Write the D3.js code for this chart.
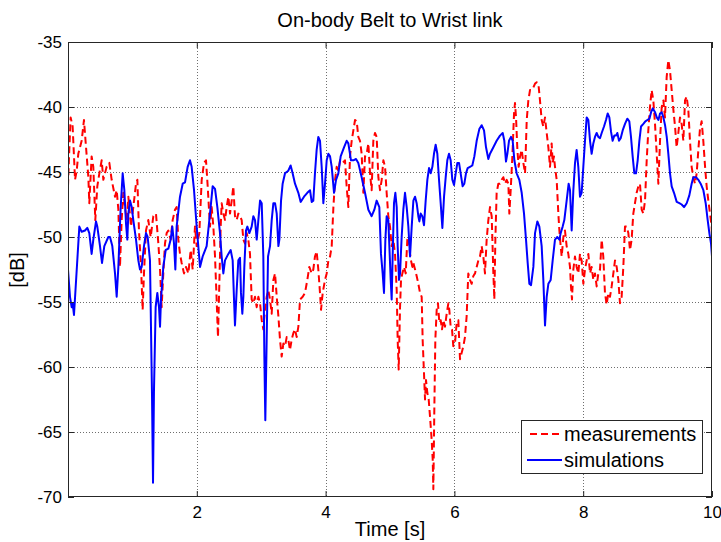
<!DOCTYPE html>
<html><head><meta charset="utf-8">
<script src="https://cdn.jsdelivr.net/npm/d3@7"></script>
<style>
body{margin:0;background:#fff}
svg{display:block}
text{font-family:"Liberation Sans",Arial,Helvetica,sans-serif;fill:#000}
</style>
</head><body>
<svg id="c" width="721" height="542"></svg>
<script>
const titleText = "On-body Belt to Wrist link";
const xLabel = "Time [s]";
const yLabel = "[dB]";
const seriesNames = ["measurements", "simulations"];
const xTicks = [2, 4, 6, 8, 10];
const yTicks = [-70, -65, -60, -55, -50, -45, -40, -35];

const simT = [
0,0.031,0.057,0.072,0.093,0.176,0.212,0.264,0.300,0.331,
0.367,0.393,0.435,0.455,0.497,0.528,0.564,0.626,0.652,0.688,
0.730,0.756,0.782,0.818,0.849,0.875,0.901,0.921,0.937,0.963,
0.989,1.014,1.056,1.092,1.118,1.144,1.180,1.211,1.237,1.273,
1.304,1.320,1.335,1.361,1.387,1.413,1.429,1.444,1.480,1.517,
1.558,1.594,1.620,1.646,1.667,1.687,1.739,1.781,1.817,1.858,
1.894,1.920,1.957,1.998,2.050,2.091,2.153,2.205,2.246,2.283,
2.319,2.360,2.386,2.412,2.438,2.490,2.526,2.557,2.578,2.593,
2.619,2.645,2.671,2.686,2.707,2.723,2.738,2.764,2.785,2.816,
2.852,2.878,2.904,2.930,2.956,2.982,3.008,3.033,3.049,3.064,
3.085,3.106,3.137,3.163,3.189,3.215,3.241,3.267,3.282,3.308,
3.333,3.370,3.421,3.457,3.488,3.525,3.577,3.613,3.665,3.716,
3.758,3.784,3.809,3.835,3.861,3.887,3.913,3.939,3.965,3.991,
4.017,4.043,4.069,4.095,4.131,4.162,4.198,4.234,4.286,4.327,
4.353,4.394,4.431,4.472,4.508,4.560,4.612,4.664,4.715,4.757,
4.793,4.834,4.860,4.886,4.907,4.928,4.948,4.974,4.990,5.011,
5.026,5.042,5.062,5.083,5.104,5.119,5.140,5.156,5.181,5.207,
5.233,5.259,5.285,5.311,5.337,5.363,5.389,5.414,5.440,5.456,
5.476,5.502,5.528,5.554,5.580,5.606,5.632,5.658,5.683,5.709,
5.735,5.761,5.787,5.813,5.839,5.865,5.890,5.916,5.942,5.968,
5.994,6.020,6.046,6.072,6.097,6.128,6.154,6.180,6.206,6.242,
6.278,6.310,6.346,6.387,6.423,6.460,6.491,6.527,6.553,6.605,
6.656,6.708,6.750,6.775,6.801,6.822,6.848,6.879,6.905,6.931,
6.967,7.008,7.045,7.081,7.112,7.138,7.164,7.190,7.226,7.252,
7.288,7.319,7.355,7.381,7.407,7.433,7.459,7.495,7.526,7.562,
7.598,7.630,7.650,7.681,7.707,7.743,7.774,7.795,7.821,7.847,
7.873,7.898,7.924,7.950,7.976,8.002,8.028,8.054,8.080,8.106,
8.131,8.157,8.183,8.209,8.235,8.261,8.287,8.323,8.354,8.380,
8.406,8.432,8.457,8.483,8.509,8.530,8.556,8.582,8.613,8.649,
8.685,8.716,8.742,8.768,8.794,8.820,8.846,8.872,8.898,8.934,
8.965,8.996,9.028,9.054,9.080,9.116,9.142,9.168,9.193,9.219,
9.245,9.271,9.297,9.322,9.348,9.374,9.410,9.452,9.493,9.529,
9.566,9.607,9.648,9.684,9.710,9.752,9.788,9.824,9.866,9.902,
9.933,9.959,9.985,10.0];

const simV = [
-52.5,-54.6,-55.4,-55.1,-56.0,-49.2,-49.6,-49.5,-49.3,-49.7,
-51.3,-50.2,-48.8,-49.2,-50.7,-52.0,-50.7,-50.0,-50.0,-50.7,
-52.8,-54.6,-52.3,-47.7,-45.1,-46.4,-49.0,-50.2,-48.2,-47.2,
-47.7,-48.7,-50.2,-51.8,-52.5,-52.3,-50.7,-49.7,-50.0,-51.8,
-62.0,-68.9,-61.8,-55.4,-54.3,-55.4,-56.9,-54.8,-52.3,-51.0,
-50.9,-50.2,-49.2,-50.5,-52.5,-49.2,-46.9,-45.9,-45.8,-44.6,
-44.1,-44.6,-46.4,-49.2,-52.3,-51.5,-50.7,-48.2,-46.1,-46.3,
-47.7,-49.7,-51.5,-52.8,-51.8,-51.3,-51.0,-51.8,-54.8,-56.8,
-54.1,-51.8,-51.6,-54.3,-55.9,-54.6,-52.3,-49.5,-49.2,-49.7,
-49.2,-48.4,-48.7,-50.2,-48.7,-47.2,-47.4,-51.5,-59.2,-64.1,
-57.9,-51.5,-50.7,-48.7,-47.4,-47.4,-48.2,-50.7,-50.2,-47.2,
-45.9,-45.1,-44.9,-44.5,-45.1,-45.9,-46.6,-47.3,-46.9,-46.6,
-46.4,-47.3,-47.2,-45.1,-43.3,-42.3,-42.6,-44.6,-47.4,-45.9,
-44.1,-43.6,-43.8,-44.6,-46.6,-45.6,-45.1,-43.8,-43.1,-42.6,
-42.8,-44.1,-44.1,-44.0,-44.3,-45.4,-46.6,-47.9,-48.4,-47.9,
-47.2,-47.7,-51.3,-52.8,-54.3,-50.2,-48.4,-48.7,-50.7,-53.3,
-54.8,-51.3,-47.4,-46.6,-47.7,-50.7,-53.3,-52.8,-50.0,-47.9,
-46.6,-47.7,-49.2,-51.5,-49.2,-47.2,-46.9,-47.4,-48.4,-48.8,
-48.2,-48.4,-49.1,-47.2,-45.6,-44.7,-45.1,-44.6,-43.6,-42.9,
-43.6,-45.6,-47.4,-49.3,-46.9,-45.4,-44.1,-43.6,-44.1,-45.6,
-46.0,-45.1,-44.3,-44.3,-45.1,-46.1,-45.9,-45.1,-44.7,-44.6,
-44.5,-43.8,-42.6,-41.7,-41.4,-41.8,-43.1,-44.0,-43.6,-43.1,
-42.6,-42.2,-42.0,-42.6,-44.2,-43.6,-42.6,-42.3,-42.6,-44.1,
-45.1,-45.6,-46.6,-48.2,-50.2,-52.0,-53.6,-53.7,-52.3,-49.7,
-48.8,-49.2,-50.7,-53.3,-56.8,-54.6,-53.6,-53.3,-51.8,-50.2,
-50.0,-50.2,-49.7,-49.2,-48.7,-47.2,-45.9,-46.4,-49.5,-46.4,
-44.3,-43.3,-44.6,-46.9,-46.6,-44.6,-42.6,-40.8,-41.0,-42.6,
-43.6,-42.8,-42.3,-42.0,-42.3,-42.4,-42.0,-41.5,-41.0,-40.5,
-40.8,-41.9,-42.6,-42.2,-42.2,-42.0,-42.6,-42.4,-41.8,-41.3,
-40.9,-41.1,-42.3,-43.8,-45.1,-45.1,-44.1,-42.6,-41.5,-41.3,
-41.1,-41.0,-40.9,-40.4,-40.1,-40.4,-40.8,-41.0,-40.5,-40.4,
-40.8,-41.4,-42.3,-43.6,-45.1,-46.1,-46.6,-47.3,-47.4,-47.5,
-47.7,-47.4,-46.8,-45.9,-45.4,-45.4,-45.6,-45.9,-46.4,-47.4,
-48.7,-49.7,-50.5,-51.5];

const measT = [
0,0.016,0.041,0.072,0.093,0.109,0.135,0.160,0.212,0.248,
0.280,0.316,0.331,0.367,0.393,0.424,0.455,0.487,0.523,0.549,
0.600,0.642,0.678,0.730,0.756,0.782,0.807,0.833,0.859,0.911,
0.937,0.978,1.014,1.056,1.077,1.102,1.134,1.159,1.180,1.211,
1.247,1.284,1.325,1.366,1.403,1.429,1.454,1.480,1.506,1.532,
1.558,1.594,1.625,1.661,1.687,1.713,1.739,1.765,1.801,1.832,
1.869,1.905,1.936,1.972,1.998,2.039,2.076,2.112,2.143,2.169,
2.205,2.231,2.257,2.283,2.308,2.329,2.350,2.371,2.386,2.412,
2.438,2.464,2.490,2.516,2.542,2.567,2.593,2.619,2.645,2.671,
2.697,2.723,2.749,2.774,2.800,2.826,2.852,2.878,2.904,2.930,
2.956,2.982,3.008,3.033,3.059,3.085,3.111,3.137,3.163,3.189,
3.215,3.241,3.267,3.292,3.318,3.344,3.370,3.396,3.421,3.447,
3.473,3.499,3.525,3.551,3.577,3.603,3.644,3.680,3.716,3.747,
3.784,3.809,3.835,3.861,3.887,3.913,3.929,3.955,3.991,4.017,
4.043,4.069,4.095,4.121,4.147,4.172,4.198,4.224,4.265,4.301,
4.327,4.353,4.379,4.405,4.431,4.457,4.483,4.508,4.534,4.560,
4.586,4.612,4.638,4.664,4.690,4.715,4.741,4.767,4.793,4.819,
4.845,4.871,4.897,4.923,4.948,4.974,5.000,5.026,5.052,5.078,
5.104,5.119,5.135,5.156,5.171,5.192,5.218,5.244,5.269,5.290,
5.311,5.326,5.347,5.363,5.389,5.414,5.440,5.466,5.492,5.507,
5.528,5.544,5.559,5.580,5.601,5.621,5.647,5.663,5.673,5.689,
5.704,5.725,5.745,5.766,5.787,5.808,5.828,5.854,5.880,5.906,
5.921,5.942,5.963,5.983,6.009,6.035,6.061,6.087,6.113,6.139,
6.164,6.190,6.216,6.242,6.268,6.294,6.320,6.346,6.372,6.397,
6.423,6.449,6.475,6.501,6.527,6.553,6.579,6.605,6.620,6.636,
6.656,6.682,6.708,6.734,6.760,6.786,6.812,6.838,6.853,6.874,
6.900,6.926,6.941,6.957,6.978,6.998,7.019,7.045,7.071,7.097,
7.123,7.148,7.174,7.200,7.226,7.252,7.278,7.304,7.329,7.355,
7.381,7.407,7.433,7.459,7.485,7.510,7.526,7.546,7.562,7.588,
7.614,7.630,7.650,7.666,7.692,7.717,7.743,7.769,7.795,7.810,
7.826,7.847,7.872,7.898,7.924,7.950,7.976,8.002,8.028,8.054,
8.080,8.106,8.131,8.157,8.183,8.209,8.235,8.261,8.287,8.312,
8.338,8.364,8.390,8.416,8.442,8.468,8.494,8.520,8.546,8.571,
8.597,8.623,8.649,8.675,8.701,8.727,8.752,8.778,8.804,8.830,
8.856,8.882,8.908,8.934,8.960,8.986,9.011,9.037,9.063,9.089,
9.115,9.141,9.167,9.193,9.219,9.245,9.270,9.296,9.322,9.348,
9.374,9.400,9.426,9.451,9.477,9.503,9.529,9.555,9.581,9.606,
9.632,9.658,9.684,9.710,9.736,9.762,9.788,9.813,9.839,9.865,
9.891,9.917,9.943,9.969,9.995,10.0];

const measV = [
-46.1,-43.8,-40.8,-41.5,-43.8,-45.6,-44.9,-43.6,-42.6,-41.0,
-43.1,-45.4,-47.4,-43.8,-44.6,-48.7,-46.1,-45.1,-44.1,-45.6,
-44.6,-44.3,-45.6,-46.9,-46.4,-47.9,-52.3,-48.7,-46.6,-48.7,
-46.9,-49.2,-47.7,-45.9,-45.6,-49.5,-52.3,-55.6,-52.8,-49.5,
-48.7,-50.0,-48.4,-48.2,-50.5,-52.5,-55.4,-52.8,-50.5,-49.7,
-49.5,-50.2,-48.7,-47.9,-47.7,-50.2,-51.3,-52.0,-52.8,-52.3,
-52.8,-51.0,-52.5,-49.2,-50.7,-49.7,-45.6,-44.3,-44.1,-46.1,
-49.2,-47.7,-49.2,-51.5,-54.8,-57.7,-53.6,-49.2,-47.4,-48.2,
-48.7,-47.7,-46.9,-48.2,-47.2,-46.1,-48.4,-48.7,-48.2,-48.4,
-48.7,-50.2,-50.5,-49.7,-50.2,-51.3,-54.8,-55.1,-54.6,-55.4,
-54.6,-55.1,-56.4,-57.1,-55.6,-54.6,-54.1,-54.8,-55.9,-53.3,
-52.8,-54.6,-56.1,-57.9,-59.2,-58.2,-58.4,-57.7,-57.9,-58.7,
-57.9,-57.4,-57.1,-57.7,-56.9,-54.8,-54.6,-54.3,-53.3,-52.3,
-52.8,-52.5,-51.5,-51.1,-52.5,-54.3,-55.6,-54.3,-53.3,-52.8,
-51.8,-51.5,-50.7,-47.7,-45.6,-44.6,-44.9,-44.1,-44.3,-44.1,
-46.1,-47.7,-43.8,-42.6,-41.8,-41.0,-41.1,-42.3,-42.6,-43.6,
-46.6,-43.8,-43.6,-42.8,-45.1,-46.4,-42.6,-42.0,-42.3,-45.4,
-46.4,-45.6,-44.1,-44.6,-46.6,-48.4,-49.2,-50.7,-50.2,-51.3,
-54.1,-57.9,-60.2,-55.4,-53.3,-52.8,-52.3,-52.8,-50.2,-50.0,
-51.3,-51.8,-52.3,-52.0,-52.5,-53.0,-53.6,-54.3,-54.6,-57.9,
-60.5,-62.5,-61.0,-62.0,-62.5,-63.8,-65.6,-67.1,-69.4,-63.0,
-57.9,-55.6,-55.1,-56.6,-56.4,-57.1,-56.4,-56.9,-55.9,-55.1,
-55.6,-56.9,-57.1,-58.4,-58.2,-56.6,-56.4,-59.4,-58.9,-58.4,
-57.7,-56.1,-52.8,-53.3,-53.6,-53.0,-52.8,-52.3,-51.8,-51.5,
-50.7,-51.5,-52.8,-50.2,-48.7,-47.7,-48.4,-52.8,-54.8,-50.2,
-46.6,-45.9,-45.9,-45.6,-45.4,-45.9,-45.6,-45.9,-48.2,-46.4,
-43.8,-40.5,-39.7,-40.8,-43.3,-44.6,-43.8,-43.3,-44.3,-45.1,
-41.0,-39.5,-38.7,-38.7,-38.5,-38.2,-38.1,-38.2,-39.5,-41.0,
-41.5,-40.8,-42.0,-43.1,-44.6,-42.8,-44.3,-43.8,-44.6,-45.6,
-48.2,-49.5,-50.7,-51.5,-50.0,-49.5,-50.7,-51.3,-52.3,-53.8,
-54.8,-52.5,-51.5,-52.3,-52.8,-51.3,-51.8,-53.6,-52.5,-51.8,
-51.3,-52.8,-52.3,-53.3,-52.8,-53.8,-52.8,-52.5,-50.2,-51.5,
-54.3,-55.2,-54.3,-54.6,-53.8,-52.8,-51.8,-52.3,-53.3,-55.1,
-54.6,-52.3,-49.2,-49.2,-49.7,-51.0,-50.2,-48.2,-47.4,-46.6,
-46.1,-45.9,-47.9,-48.2,-47.2,-44.1,-41.8,-40.0,-38.7,-39.5,
-41.3,-43.6,-45.9,-42.6,-40.0,-39.5,-40.8,-37.7,-36.4,-37.2,
-38.7,-40.2,-41.5,-43.1,-42.0,-40.8,-41.3,-42.6,-39.5,-39.2,
-40.2,-42.6,-44.6,-45.4,-45.9,-45.1,-43.3,-41.7,-41.1,-42.6,
-44.5,-46.1,-47.2,-48.2,-49.2,-50.2];

const seriesColors = ["#ff0000", "#0000ff"];

const W = 721, H = 542;
const m = {l: 68, r: 712, t: 42, b: 497};
const x = d3.scaleLinear().domain([0, 10]).range([m.l, m.r]);
const y = d3.scaleLinear().domain([-70, -35]).range([m.b, m.t]);

const svg = d3.select("#c");
svg.append("rect").attr("width", W).attr("height", H).attr("fill", "#fff");

// grid
const grid = svg.append("g").attr("stroke", "#6e6e6e").attr("stroke-width", 1)
  .attr("stroke-dasharray", "1,2").attr("shape-rendering", "crispEdges");
grid.selectAll("line.gx").data(xTicks.filter(d => d > 0 && d < 10)).join("line")
  .attr("class", "gx")
  .attr("x1", d => Math.round(x(d)) + 0.5).attr("x2", d => Math.round(x(d)) + 0.5)
  .attr("y1", m.t).attr("y2", m.b);
grid.selectAll("line.gy").data(yTicks.filter(d => d > -70 && d < -35)).join("line")
  .attr("class", "gy")
  .attr("y1", d => Math.round(y(d)) + 0.5).attr("y2", d => Math.round(y(d)) + 0.5)
  .attr("x1", m.l).attr("x2", m.r);

// clip
svg.append("clipPath").attr("id", "clip").append("rect")
  .attr("x", m.l).attr("y", m.t).attr("width", m.r - m.l).attr("height", m.b - m.t);

const line = d3.line().x(d => x(d[0])).y(d => y(d[1]));
const meas = measT.map((t, i) => [t, measV[i]]);
const sim = simT.map((t, i) => [t, simV[i]]);

const plot = svg.append("g").attr("clip-path", "url(#clip)");
plot.append("path").datum(meas).attr("d", line).attr("fill", "none")
  .attr("stroke", seriesColors[0]).attr("stroke-width", 2)
  .attr("stroke-dasharray", "7,4").attr("stroke-linejoin", "round");
plot.append("path").datum(sim).attr("d", line).attr("fill", "none")
  .attr("stroke", seriesColors[1]).attr("stroke-width", 2)
  .attr("stroke-linejoin", "round");

// axes
const fmt = d => String(d);
const axisColor = "#262626";
function styleAxis(g) {
  g.select(".domain").remove();
  g.selectAll(".tick line").attr("stroke", axisColor);
  g.selectAll(".tick text").attr("font-size", 17).attr("fill", "#000")
    .attr("font-family", '"Liberation Sans", Arial, sans-serif');
}
svg.append("g").attr("transform", `translate(0,${m.b})`)
  .call(d3.axisBottom(x).tickValues(xTicks).tickSize(-6).tickPadding(9).tickFormat(fmt))
  .call(styleAxis);
svg.append("g").attr("transform", `translate(0,${m.t})`)
  .call(d3.axisTop(x).tickValues(xTicks).tickSize(-6).tickFormat(""))
  .call(styleAxis);
svg.append("g").attr("transform", `translate(${m.l},0)`)
  .call(d3.axisLeft(y).tickValues(yTicks).tickSize(-6).tickPadding(6).tickFormat(fmt))
  .call(styleAxis);
svg.append("g").attr("transform", `translate(${m.r},0)`)
  .call(d3.axisRight(y).tickValues(yTicks).tickSize(-6).tickFormat(""))
  .call(styleAxis);

// box
svg.append("rect").attr("x", m.l + 0.5).attr("y", m.t + 0.5)
  .attr("width", m.r - m.l - 1).attr("height", m.b - m.t - 1)
  .attr("fill", "none").attr("stroke", axisColor).attr("shape-rendering", "crispEdges");

// title and labels
svg.append("text").attr("x", 390).attr("y", 27).attr("text-anchor", "middle")
  .attr("font-size", 20).text(titleText);
svg.append("text").attr("x", 390).attr("y", 536).attr("text-anchor", "middle")
  .attr("font-size", 20).text(xLabel);
svg.append("text").attr("transform", "translate(24,270) rotate(-90)")
  .attr("text-anchor", "middle").attr("font-size", 20).text(yLabel);

// legend
const lg = svg.append("g");
lg.append("rect").attr("x", 521.5).attr("y", 420.5).attr("width", 181).attr("height", 53)
  .attr("fill", "#fff").attr("stroke", axisColor).attr("shape-rendering", "crispEdges");
const legendRows = [
  {name: seriesNames[0], color: seriesColors[0], dash: "7,4", x1: 530, y: 434},
  {name: seriesNames[1], color: seriesColors[1], dash: null, x1: 527, y: 460}
];
legendRows.forEach(r => {
  lg.append("line").attr("x1", r.x1).attr("x2", 562).attr("y1", r.y).attr("y2", r.y)
    .attr("stroke", r.color).attr("stroke-width", 2).attr("stroke-dasharray", r.dash);
  lg.append("text").attr("x", 564).attr("y", r.y + 7).attr("font-size", 20).text(r.name);
});
</script>
</body></html>
